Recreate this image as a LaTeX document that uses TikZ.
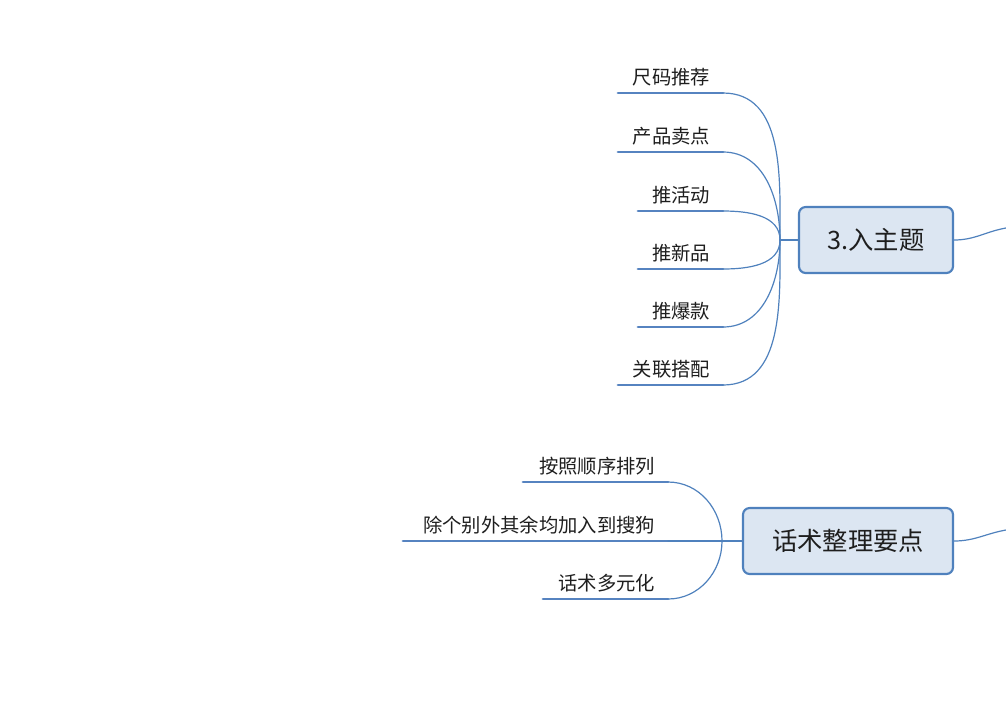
\documentclass[tikz,border=0pt]{standalone}
\usepackage{fontspec}
\setmainfont{Noto Sans CJK SC}
\usepackage{xcolor}
\definecolor{myline}{RGB}{79,129,189}
\definecolor{mybar}{RGB}{86,131,192}
\definecolor{myfill}{RGB}{220,230,242}
\definecolor{mytext}{RGB}{30,30,30}
\usetikzlibrary{positioning}
\begin{document}
\begin{tikzpicture}[x=0.75pt,y=-0.75pt,line cap=round]
	\tikzstyle{topic}=[draw=myline,line width=1.6pt,fill=myfill,rounded corners=5pt,minimum height=66*0.75pt,text=mytext,font=\fontsize{19}{19}\selectfont];
	\tikzstyle{leaf}=[anchor=south east,inner sep=2pt,text=mytext,font=\fontsize{14.5}{15}\selectfont];
	\tikzstyle{bar}=[mybar,line width=2.2pt];
	\tikzstyle{link}=[myline,line width=0.9pt];
	\useasboundingbox (0,0) rectangle (1006,701);
	%% Topics
	\node[topic,minimum width=154*0.75pt] (main) at (876,240) {3.入主题};
	\node[topic,minimum width=210*0.75pt] (talk) at (848,541) {话术整理要点};
	\coordinate (mainhub) at (780,240);
	\coordinate (talkhub) at (722,541);
	\coordinate (mainout) at (1006,228);
	\coordinate (talkout) at (1006,530);
	\draw[link] (mainhub) -- (main.west);
	\draw[link] (talkhub) -- (talk.west);
	\draw[link] (main.east) to[out=0,in=190] (mainout);
	\draw[link] (talk.east) to[out=0,in=190] (talkout);
	%% Leaves of 3.入主题
	\foreach \y/\x/\t [count=\i] in {93/618/尺码推荐,152/618/产品卖点,211/638/推活动,269/638/推新品,327/638/推爆款,385/618/关联搭配}{
		\coordinate (ma\i) at (\x,\y);
		\coordinate (mb\i) at (723,\y);
		\draw[bar] (ma\i) -- (mb\i);
		\node[leaf] (ml\i) at (713,\y-4) {\t};
		\ifnum\i<4
			\draw[link] (mb\i) to[out=0,in=90] (mainhub);
		\else
			\draw[link] (mb\i) to[out=0,in=-90] (mainhub);
		\fi
	}
	%% Leaves of 话术整理要点
	\foreach \y/\x/\t [count=\i] in {482/523/按照顺序排列,541/403/除个别外其余均加入到搜狗,599/543/话术多元化}{
		\coordinate (ta\i) at (\x,\y);
		\coordinate (tb\i) at (668,\y);
		\draw[bar] (ta\i) -- (tb\i);
		\node[leaf] (tl\i) at (658,\y-4) {\t};
	}
	\draw[link] (tb1) to[out=0,in=90] (talkhub);
	\draw[link] (tb2) -- (talkhub);
	\draw[link] (tb3) to[out=0,in=-90] (talkhub);
\end{tikzpicture}
\end{document}
